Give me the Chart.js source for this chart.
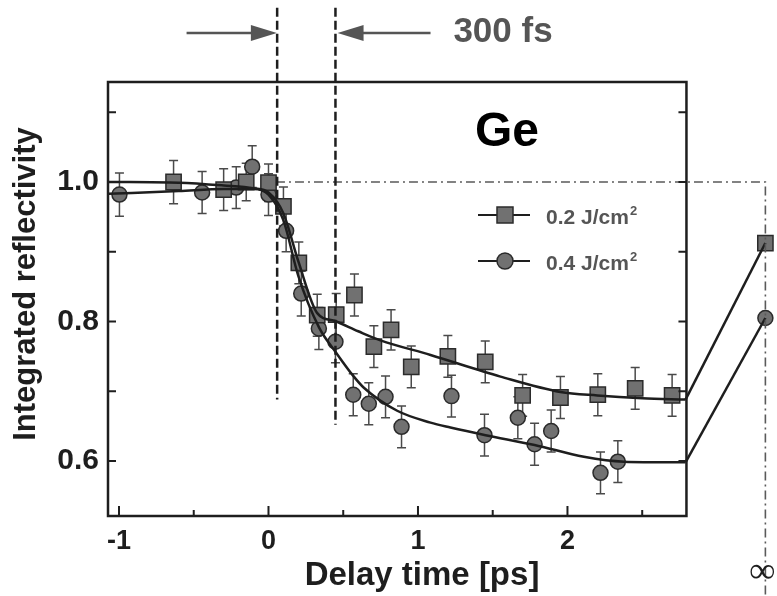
<!DOCTYPE html>
<html>
<head>
<meta charset="utf-8">
<script src="https://cdn.jsdelivr.net/npm/chart.js@4.4.0/dist/chart.umd.min.js"></script>
<style>
  html, body { margin: 0; padding: 0; background: #fff; }
  #wrap { width: 777px; height: 596px; }
</style>
</head>
<body>
<div id="wrap"><canvas id="geChart" width="777" height="596"></canvas></div>
<script>
// --- data ---
// 0.2 J/cm2 (squares)
const sqTime = [-0.635, -0.30, -0.149, 0.0, 0.10, 0.203, 0.326, 0.453, 0.575, 0.705, 0.82, 0.955, 1.20, 1.45, 1.70, 1.953, 2.203, 2.453, 2.70];
const sqRefl = [1.000, 0.989, 1.000, 0.999, 0.965, 0.884, 0.809, 0.810, 0.838, 0.764, 0.788, 0.735, 0.750, 0.742, 0.694, 0.691, 0.695, 0.704, 0.694];
const sqErr  = [0.031, 0.030, 0.027, 0.027, 0.028, 0.030, 0.030, 0.030, 0.030, 0.030, 0.029, 0.030, 0.030, 0.030, 0.030, 0.030, 0.030, 0.030, 0.030];
// 0.4 J/cm2 (circles)
const ciTime = [-0.997, -0.444, -0.216, -0.109, 0.0, 0.118, 0.219, 0.337, 0.448, 0.567, 0.671, 0.783, 0.89, 1.224, 1.445, 1.668, 1.78, 1.891, 2.221, 2.337];
const ciRefl = [0.982, 0.985, 0.992, 1.022, 0.982, 0.930, 0.840, 0.790, 0.771, 0.695, 0.682, 0.692, 0.649, 0.693, 0.637, 0.662, 0.624, 0.643, 0.583, 0.599];
const ciErr  = [0.031, 0.030, 0.030, 0.030, 0.030, 0.030, 0.032, 0.030, 0.030, 0.030, 0.030, 0.030, 0.030, 0.030, 0.030, 0.030, 0.030, 0.030, 0.030, 0.030];
// values at "infinite" delay
const INF_POS = 3.324;
const sqInf = 0.9125;
const ciInf = 0.805;
// fitted curves
const sqFitTime = [-1.07, -0.6, -0.3, -0.1, 0.0, 0.1, 0.2, 0.326, 0.44, 0.6, 0.749, 1.084, 1.552, 1.953, 2.2, 2.5, 2.79];
const sqFitRefl = [1.000, 0.999, 0.995, 0.991, 0.985, 0.955, 0.886, 0.812, 0.801, 0.786, 0.773, 0.752, 0.721, 0.699, 0.694, 0.690, 0.688];
const ciFitTime = [-1.07, -0.6, -0.3, -0.1, 0.0, 0.1, 0.2, 0.337, 0.45, 0.567, 0.638, 0.861, 1.084, 1.217, 1.452, 1.78, 2.11, 2.377, 2.79];
const ciFitRefl = [0.983, 0.987, 0.990, 0.990, 0.982, 0.945, 0.865, 0.792, 0.756, 0.722, 0.705, 0.672, 0.655, 0.648, 0.637, 0.623, 0.606, 0.599, 0.598];

// ticks
const xTickValues = [-1, 0, 1, 2];
const xTickLabels = ['-1', '0', '1', '2'];
const xMinorTicks = [-0.5, 0.5, 1.5, 2.5];
const yTickValues = [0.6, 0.8, 1.0];
const yTickLabels = ['0.6', '0.8', '1.0'];
const yMinorTicks = [0.6, 0.7, 0.8, 0.9, 1.0, 1.1];

const seriesLabels = ['0.2 J/cm', '0.4 J/cm'];

// axis window
const X_MIN = -1.0736, X_MAX = 3.395, FRAME_RIGHT = 2.796;
const Y_MIN = 0.5211, Y_MAX = 1.1434;

const FONT = "'Liberation Sans', Arial, Helvetica, sans-serif";
const MARK_FILL = '#717171', MARK_EDGE = '#2b2b2b', INK = '#1e1e1e', GREY = '#555';

const pts = (xs, ys) => xs.map((v, i) => ({ x: v, y: ys[i] }));

// error bars under the markers
const errorBars = {
  id: 'errorBars',
  beforeDatasetsDraw(chart) {
    const { ctx, scales: { x, y } } = chart;
    ctx.save();
    ctx.strokeStyle = '#4a4a4a';
    ctx.lineWidth = 1.5;
    [[sqTime, sqRefl, sqErr], [ciTime, ciRefl, ciErr]].forEach(([ts, rs, es]) => {
      ts.forEach((t, i) => {
        const px = x.getPixelForValue(t);
        const top = y.getPixelForValue(rs[i] + es[i]);
        const bot = y.getPixelForValue(rs[i] - es[i]);
        ctx.beginPath();
        ctx.moveTo(px, top); ctx.lineTo(px, bot);
        ctx.moveTo(px - 4.5, top); ctx.lineTo(px + 4.5, top);
        ctx.moveTo(px - 4.5, bot); ctx.lineTo(px + 4.5, bot);
        ctx.stroke();
      });
    });
    ctx.restore();
  }
};

// frame, ticks, guide lines, arrows, labels, legend
const decor = {
  id: 'decor',
  afterDatasetsDraw(chart) {
    const { ctx, chartArea: a, scales: { x, y } } = chart;
    const px = v => x.getPixelForValue(v);
    const py = v => y.getPixelForValue(v);
    const L = a.left, R = px(FRAME_RIGHT), T = a.top, B = a.bottom;
    ctx.save();

    // dash-dot reference at 1.0 and at infinity
    ctx.strokeStyle = '#5a5a5a';
    ctx.lineWidth = 1.6;
    ctx.setLineDash([9, 4, 2, 4]);
    ctx.beginPath();
    ctx.moveTo(px(0.05), py(1.0));
    ctx.lineTo(px(INF_POS), py(1.0));
    ctx.lineTo(px(INF_POS), chart.height);
    ctx.stroke();

    // 300 fs window (dashed)
    ctx.strokeStyle = INK;
    ctx.lineWidth = 2.5;
    ctx.setLineDash([9, 4]);
    [[0.058, 0.688], [0.448, 0.652]].forEach(([t, v]) => {
      ctx.beginPath();
      ctx.moveTo(px(t), py(1.25));
      ctx.lineTo(px(t), py(v));
      ctx.stroke();
    });
    ctx.setLineDash([]);

    // frame
    ctx.lineWidth = 2.5;
    ctx.strokeRect(L, T, R - L, B - T);

    // ticks
    ctx.lineWidth = 2;
    ctx.beginPath();
    xTickValues.forEach(t => { ctx.moveTo(px(t), B); ctx.lineTo(px(t), B - 10); });
    xMinorTicks.forEach(t => { ctx.moveTo(px(t), B); ctx.lineTo(px(t), B - 6); });
    yMinorTicks.forEach(v => {
      ctx.moveTo(L, py(v)); ctx.lineTo(L + 8, py(v));
      ctx.moveTo(R, py(v)); ctx.lineTo(R - 8, py(v));
    });
    ctx.stroke();

    // arrows
    const ay = py(1.2136);
    ctx.strokeStyle = GREY; ctx.fillStyle = GREY; ctx.lineWidth = 2.5;
    const arrow = (from, to) => {
      const x0 = px(from), x1 = px(to), d = Math.sign(x1 - x0);
      ctx.beginPath(); ctx.moveTo(x0, ay); ctx.lineTo(x1 - d * 20, ay); ctx.stroke();
      ctx.beginPath(); ctx.moveTo(x1, ay); ctx.lineTo(x1 - d * 26, ay - 8); ctx.lineTo(x1 - d * 26, ay + 8); ctx.closePath(); ctx.fill();
    };
    arrow(-0.548, 0.056);
    arrow(1.084, 0.462);

    ctx.textAlign = 'left';
    ctx.textBaseline = 'alphabetic';
    ctx.font = 'bold 35px ' + FONT;
    ctx.fillText('300 fs', px(1.237), 42);

    // sample label
    ctx.fillStyle = '#000';
    ctx.font = 'bold 48px ' + FONT;
    ctx.textAlign = 'center';
    ctx.fillText('Ge', 507, 146);

    // legend
    const rows = [[215, 'rect'], [261, 'circle']];
    rows.forEach(([ly, shape], i) => {
      ctx.strokeStyle = INK; ctx.lineWidth = 2;
      ctx.beginPath(); ctx.moveTo(478, ly); ctx.lineTo(530, ly); ctx.stroke();
      ctx.fillStyle = MARK_FILL; ctx.strokeStyle = MARK_EDGE; ctx.lineWidth = 1.5;
      ctx.beginPath();
      if (shape === 'rect') ctx.rect(497, ly - 8, 16, 16);
      else ctx.arc(505, ly, 8, 0, Math.PI * 2);
      ctx.fill(); ctx.stroke();
      ctx.fillStyle = GREY;
      ctx.textAlign = 'left';
      ctx.font = 'bold 21px ' + FONT;
      const tx = 546;
      ctx.fillText(seriesLabels[i], tx, ly + 9);
      const w = ctx.measureText(seriesLabels[i]).width;
      ctx.font = 'bold 13px ' + FONT;
      ctx.fillText('2', tx + w + 1, ly);
    });

    // infinity label
    ctx.fillStyle = INK;
    ctx.textAlign = 'center';
    ctx.font = 'bold 36px "Liberation Serif", "DejaVu Serif", serif';
    ctx.fillText('\u221E', px(INF_POS) - 3, 582);

    // axis titles
    ctx.font = 'bold 33px ' + FONT;
    ctx.fillText('Delay time [ps]', 422, 585);
    ctx.save();
    ctx.translate(35, 284);
    ctx.rotate(-Math.PI / 2);
    ctx.font = 'bold 31px ' + FONT;
    ctx.fillText('Integrated reflectivity', 0, 0);
    ctx.restore();

    ctx.restore();
  }
};

const ctx = document.getElementById('geChart').getContext('2d');
window.geChart = new Chart(ctx, {
  type: 'scatter',
  data: {
    datasets: [
      { type: 'line', data: pts(sqFitTime, sqFitRefl), borderColor: INK, borderWidth: 2.5, pointRadius: 0, cubicInterpolationMode: 'monotone', fill: false },
      { type: 'line', data: [{ x: sqFitTime[sqFitTime.length - 1], y: sqFitRefl[sqFitRefl.length - 1] }, { x: INF_POS, y: sqInf }], borderColor: INK, borderWidth: 2.5, pointRadius: 0, tension: 0, fill: false },
      { type: 'line', data: pts(ciFitTime, ciFitRefl), borderColor: INK, borderWidth: 2.5, pointRadius: 0, cubicInterpolationMode: 'monotone', fill: false },
      { type: 'line', data: [{ x: ciFitTime[ciFitTime.length - 1], y: ciFitRefl[ciFitRefl.length - 1] }, { x: INF_POS, y: ciInf }], borderColor: INK, borderWidth: 2.5, pointRadius: 0, tension: 0, fill: false },
      { label: seriesLabels[0], data: pts(sqTime.concat([INF_POS]), sqRefl.concat([sqInf])), pointStyle: 'rect', pointRadius: 10.8, backgroundColor: MARK_FILL, borderColor: MARK_EDGE, borderWidth: 1.5, showLine: false },
      { label: seriesLabels[1], data: pts(ciTime.concat([INF_POS]), ciRefl.concat([ciInf])), pointStyle: 'circle', pointRadius: 7.5, backgroundColor: MARK_FILL, borderColor: MARK_EDGE, borderWidth: 1.5, showLine: false }
    ]
  },
  options: {
    responsive: false,
    animation: false,
    layout: { autoPadding: false, padding: { top: 82, right: 1, left: 0, bottom: 0 } },
    plugins: { legend: { display: false }, tooltip: { enabled: false } },
    scales: {
      x: {
        type: 'linear', min: X_MIN, max: X_MAX,
        grid: { display: false, drawTicks: false },
        border: { display: false },
        afterBuildTicks: s => { s.ticks = xTickValues.map(v => ({ value: v })); },
        afterFit: s => { s.height = 80; s.paddingLeft = 0; s.paddingRight = 0; },
        ticks: {
          autoSkip: false, maxRotation: 0, padding: 9, color: INK,
          font: { family: FONT, size: 27, weight: 'bold' },
          callback: v => { const i = xTickValues.indexOf(v); return i >= 0 ? xTickLabels[i] : ''; }
        }
      },
      y: {
        type: 'linear', min: Y_MIN, max: Y_MAX,
        grid: { display: false, drawTicks: false },
        border: { display: false },
        afterBuildTicks: s => { s.ticks = yTickValues.map(v => ({ value: v })); },
        afterFit: s => { s.width = 108; s.paddingTop = 0; s.paddingBottom = 0; },
        ticks: {
          padding: 9, color: INK,
          font: { family: FONT, size: 30, weight: 'bold' },
          callback: v => { const i = yTickValues.indexOf(v); return i >= 0 ? yTickLabels[i] : ''; }
        }
      }
    }
  },
  plugins: [errorBars, decor]
});
</script>
</body>
</html>
